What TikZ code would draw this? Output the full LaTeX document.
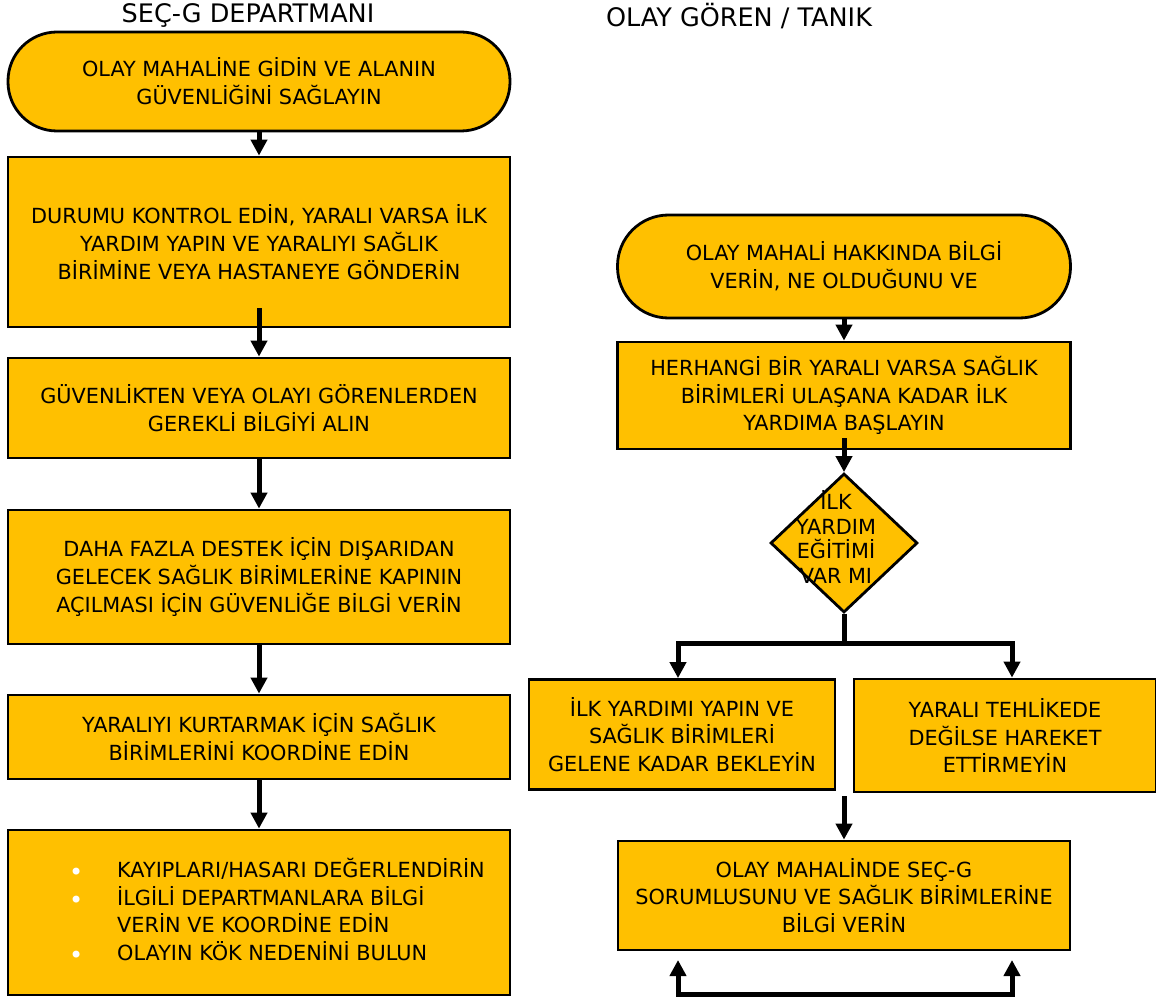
\documentclass[tikz,border=0pt]{standalone}
\usepackage{fontspec}
\setmainfont{DejaVu Sans}
\usetikzlibrary{arrows.meta,shapes.geometric,calc}
\definecolor{gold}{HTML}{FFC000}
\newcommand{\wbul}{\textcolor{white}{\raisebox{-3pt}{\fontsize{24}{24}\selectfont •}}}
\begin{document}
\begin{tikzpicture}[x=1pt,y=-1pt,
  box/.style={draw=black, line width=2.8pt, fill=gold, inner sep=0pt, align=center, font=\fontsize{20.8}{27.8}\selectfont},
  term/.style={box, rounded corners=49pt},
  conn/.style={line width=5pt, -{Triangle[width=16pt,length=16pt]}},
  biconn/.style={line width=5pt, {Triangle[width=16pt,length=16pt]}-{Triangle[width=16pt,length=16pt]}},
  plainline/.style={line width=5pt},
  head/.style={font=\fontsize{25.5}{28}\selectfont},
  dtext/.style={align=center, inner sep=0pt, font=\fontsize{20.8}{24.5}\selectfont},
  listtext/.style={anchor=west, inner sep=0pt, font=\fontsize{20.8}{27.6}\selectfont}]
\useasboundingbox (0,0) rectangle (1156,1000);

% headers
\node[head] (h1) at (248,16) {SEÇ-G DEPARTMANI};
\node[head] (h2) at (739,16) {OLAY GÖREN / TANIK};

% left column
\node[term, minimum width=502pt, minimum height=99pt] (b1) at (259,81.5) {OLAY MAHALİNE GİDİN VE ALANIN\\GÜVENLİĞİNİ SAĞLAYIN};
\node[box, minimum width=502pt, minimum height=170pt] (b2) at (259,242) {DURUMU KONTROL EDİN, YARALI VARSA İLK\\YARDIM YAPIN VE YARALIYI SAĞLIK\\BİRİMİNE VEYA HASTANEYE GÖNDERİN};
\node[box, minimum width=502pt, minimum height=100pt] (b3) at (259,408) {GÜVENLİKTEN VEYA OLAYI GÖRENLERDEN\\GEREKLİ BİLGİYİ ALIN};
\node[box, minimum width=502pt, minimum height=134pt] (b4) at (259,577) {DAHA FAZLA DESTEK İÇİN DIŞARIDAN\\GELECEK SAĞLIK BİRİMLERİNE KAPININ\\AÇILMASI İÇİN GÜVENLİĞE BİLGİ VERİN};
\node[box, minimum width=502pt, minimum height=84pt] (b5) at (259,737) {YARALIYI KURTARMAK İÇİN SAĞLIK\\BİRİMLERİNİ KOORDİNE EDİN};
\node[box, minimum width=502pt, minimum height=165pt] (b6) at (259,912.5) {};
\node[listtext] (b6list) at (69,913.5) {%
\begin{tabular}{@{}p{48pt}@{}l@{}}
\wbul & KAYIPLARI/HASARI DEĞERLENDİRİN\\
\wbul & İLGİLİ DEPARTMANLARA BİLGİ\\
 & VERİN VE KOORDİNE EDİN\\
\wbul & OLAYIN KÖK NEDENİNİ BULUN
\end{tabular}};

\draw[conn] (b1) -- (b2);
\draw[conn] ([yshift=20pt]b2.south) -- (b3);
\draw[conn] (b3) -- (b4);
\draw[conn] (b4) -- (b5);
\draw[conn] (b5) -- (b6);

% right column
\node[term, minimum width=453pt, minimum height=103pt, rounded corners=51pt] (r1) at (844,266.5) {OLAY MAHALİ HAKKINDA BİLGİ\\VERİN, NE OLDUĞUNU VE};
\node[box, minimum width=453pt, minimum height=107pt] (r2) at (844,395.5) {HERHANGİ BİR YARALI VARSA SAĞLIK\\BİRİMLERİ ULAŞANA KADAR İLK\\YARDIMA BAŞLAYIN};
\node[diamond, draw=black, line width=2.8pt, fill=gold, inner sep=0pt, minimum width=147pt, minimum height=139pt] (d) at (844,543) {};
\node[dtext] (dt) at (836,537) {İLK\\YARDIM\\EĞİTİMİ\\VAR MI};
\node[box, minimum width=306pt, minimum height=110pt] (r3a) at (682,734.5) {İLK YARDIMI YAPIN VE\\SAĞLIK BİRİMLERİ\\GELENE KADAR BEKLEYİN};
\node[box, minimum width=302pt, minimum height=113pt] (r3b) at (1005,735.5) {YARALI TEHLİKEDE\\DEĞİLSE HAREKET\\ETTİRMEYİN};
\node[box, minimum width=452pt, minimum height=109pt] (r4) at (844,895.5) {OLAY MAHALİNDE SEÇ-G\\SORUMLUSUNU VE SAĞLIK BİRİMLERİNE\\BİLGİ VERİN};

\draw[conn] (r1) -- (r2);
\draw[conn] ([yshift=12pt]r2.south) -- (d);
\coordinate (split) at (844,643);
\draw[plainline] (d.south) -- (split);
\draw[conn] (split) -| ([xshift=-4pt]r3a.north);
\draw[conn] (split) -| ([xshift=7pt]r3b.north);
\coordinate (mid) at (844,796);
\draw[conn] (mid) -- (r4.north);
\coordinate (u1) at (678,960);
\coordinate (u2) at (1012,960);
\draw[biconn] (u1) -- ++(0,34) -| (u2);
\end{tikzpicture}
\end{document}
